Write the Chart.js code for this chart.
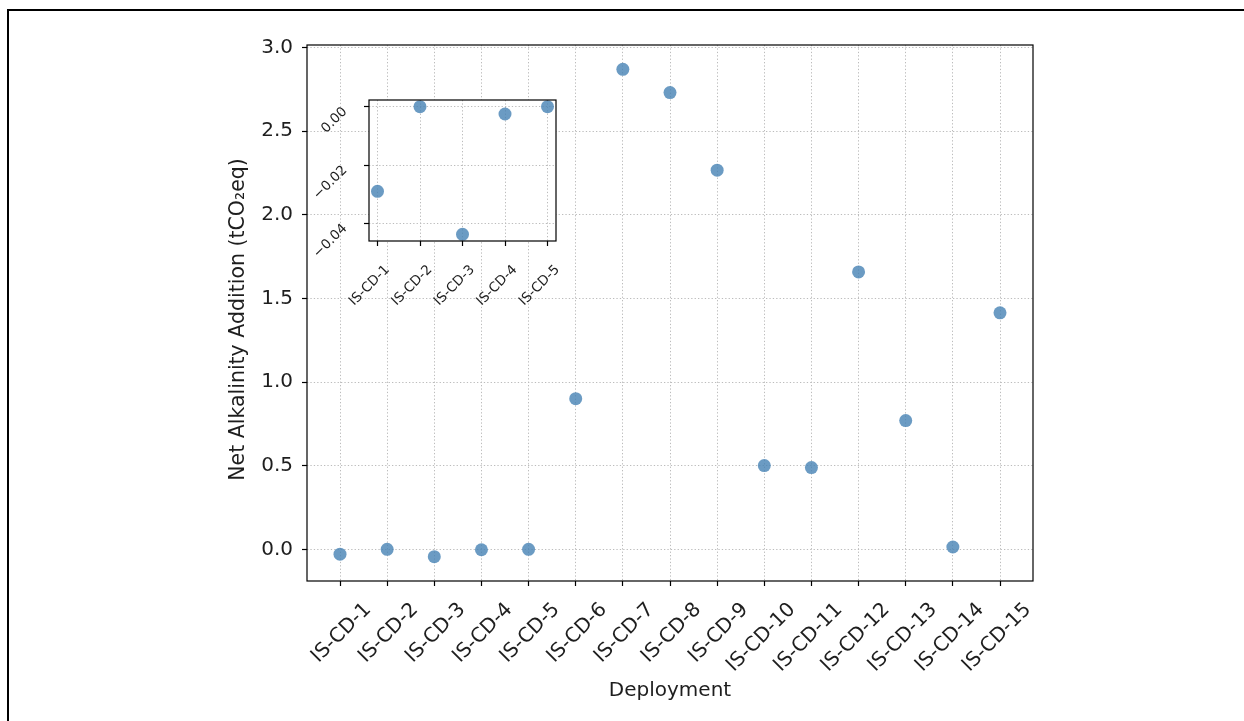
<!DOCTYPE html>
<html><head><meta charset="utf-8">
<script src="https://cdn.jsdelivr.net/npm/chart.js@4.4.0/dist/chart.umd.min.js"></script>
<style>
html,body{margin:0;padding:0;background:#fff;width:1244px;height:721px;overflow:hidden;}
#frame{position:absolute;left:7px;top:9px;width:2000px;height:2000px;border-left:2.5px solid #000;border-top:2.5px solid #000;}
#main{position:absolute;left:0;top:0;}
#inset{position:absolute;left:290px;top:80px;}
</style></head><body>
<div id="frame"></div>
<canvas id="main" width="1244" height="721"></canvas>
<canvas id="inset" width="280" height="240"></canvas>
<script>
// ---- data ----
const categories = ['IS-CD-1','IS-CD-2','IS-CD-3','IS-CD-4','IS-CD-5','IS-CD-6','IS-CD-7','IS-CD-8',
  'IS-CD-9','IS-CD-10','IS-CD-11','IS-CD-12','IS-CD-13','IS-CD-14','IS-CD-15'];
const netAlkalinity = [-0.029, 0.000, -0.0437, -0.0025, 0.000, 0.901, 2.870, 2.731, 2.267,
  0.501, 0.489, 1.659, 0.770, 0.014, 1.414];
const insetCategories = ['IS-CD-1','IS-CD-2','IS-CD-3','IS-CD-4','IS-CD-5'];
const insetValues = [-0.029, 0.000, -0.0437, -0.0025, 0.000];
const yTickValues = [0, 0.5, 1.0, 1.5, 2.0, 2.5, 3.0];
const yTickLabels = ['0.0','0.5','1.0','1.5','2.0','2.5','3.0'];
const insetYTickValues = [-0.04, -0.02, 0.00];
const insetYTickLabels = ['\u22120.04','\u22120.02','0.00'];
const xLabel = 'Deployment';
const yLabel = 'Net Alkalinity Addition (tCO\u2082eq)';

// ---- styles ----
const FONT = 'DejaVu Sans';
const TXT = '#1e1e1e';
const POINT = 'rgba(70,130,180,0.8)';
const GRID = '#bcbcbc';
const DASH = [1.3, 2.1];

const framePlugin = {
  id: 'frameBox',
  beforeDraw(chart, args, opts) {
    if (opts && opts.fill) {
      const {ctx, chartArea: a} = chart;
      ctx.save(); ctx.fillStyle = '#fff';
      ctx.fillRect(a.left, a.top, a.right - a.left, a.bottom - a.top);
      ctx.restore();
    }
  },
  afterDatasetsDraw(chart) {
    const {ctx, chartArea: a} = chart;
    ctx.save(); ctx.strokeStyle = '#000'; ctx.lineWidth = 1.2;
    ctx.strokeRect(a.left, a.top, a.right - a.left, a.bottom - a.top);
    ctx.restore();
  }
};

function axisGrid(tl) {
  return { color: GRID, lineWidth: 1, tickLength: tl, tickColor: '#000', tickWidth: 1.2, tickBorderDash: [] };
}
function fixSize(prop, val) {
  return s => { s[prop] = val; s.paddingLeft = 0; s.paddingRight = 0; s.paddingTop = 0; s.paddingBottom = 0; };
}

// ---- main chart ----
new Chart(document.getElementById('main'), {
  type: 'scatter',
  data: { datasets: [{
    data: netAlkalinity.map((v, i) => ({x: i, y: v})),
    backgroundColor: POINT, borderWidth: 0, pointRadius: 6.5, pointHoverRadius: 6.5
  }]},
  options: {
    responsive: false, animation: false, devicePixelRatio: 1,
    layout: { padding: { left: 222, top: 45, right: 211, bottom: 14 } },
    plugins: { legend: { display: false }, tooltip: { enabled: false }, frameBox: { fill: false } },
    events: [],
    scales: {
      x: {
        type: 'linear', min: -0.7, max: categories.length - 1 + 0.7,
        afterBuildTicks: s => { s.ticks = categories.map((c, i) => ({value: i})); },
        afterFit: fixSize('height', 126),
        grid: axisGrid(5),
        border: { display: false, dash: DASH },
        ticks: { autoSkip: false, minRotation: 45, maxRotation: 45, labelOffset: 28, padding: 12,
          color: TXT, font: { family: FONT, size: 20 },
          callback: (v, i) => categories[i] },
        title: { display: true, text: xLabel, color: TXT, font: { family: FONT, size: 20 }, padding: 4 }
      },
      y: {
        type: 'linear', min: -0.1894, max: 3.0157,
        afterBuildTicks: s => { s.ticks = yTickValues.map(v => ({value: v})); },
        afterFit: fixSize('width', 85),
        grid: axisGrid(5),
        border: { display: false, dash: DASH },
        ticks: { autoSkip: false, padding: 9, color: TXT, font: { family: FONT, size: 20 },
          callback: (v, i) => yTickLabels[i] },
        title: { display: true, text: yLabel + '\u00a0\u00a0', color: TXT, font: { family: FONT, size: 20.5 }, padding: 4 }
      }
    }
  },
  plugins: [framePlugin]
});

// ---- inset chart ----
new Chart(document.getElementById('inset'), {
  type: 'scatter',
  data: { datasets: [{
    data: insetValues.map((v, i) => ({x: i, y: v})),
    backgroundColor: POINT, borderWidth: 0, pointRadius: 6.5, pointHoverRadius: 6.5
  }]},
  options: {
    responsive: false, animation: false, devicePixelRatio: 1,
    layout: { padding: { left: 0, top: 20, right: 14, bottom: 0 } },
    plugins: { legend: { display: false }, tooltip: { enabled: false }, frameBox: { fill: true } },
    events: [],
    scales: {
      x: {
        type: 'linear', min: -0.2, max: insetCategories.length - 1 + 0.2,
        afterBuildTicks: s => { s.ticks = insetCategories.map((c, i) => ({value: i})); },
        afterFit: fixSize('height', 79),
        grid: axisGrid(5),
        border: { display: false, dash: DASH },
        ticks: { autoSkip: false, minRotation: 45, maxRotation: 45, labelOffset: 10, padding: 16,
          color: TXT, font: { family: FONT, size: 13.5 },
          callback: (v, i) => insetCategories[i] }
      },
      y: {
        type: 'linear', min: -0.046, max: 0.0023,
        afterBuildTicks: s => { s.ticks = insetYTickValues.map(v => ({value: v})); },
        afterFit: fixSize('width', 79),
        grid: axisGrid(5),
        border: { display: false, dash: DASH },
        ticks: { autoSkip: false, minRotation: 45, maxRotation: 45, labelOffset: 3, padding: 19,
          color: TXT, font: { family: FONT, size: 13.5 },
          callback: (v, i) => insetYTickLabels[i] }
      }
    }
  },
  plugins: [framePlugin]
});
</script>
</body></html>
